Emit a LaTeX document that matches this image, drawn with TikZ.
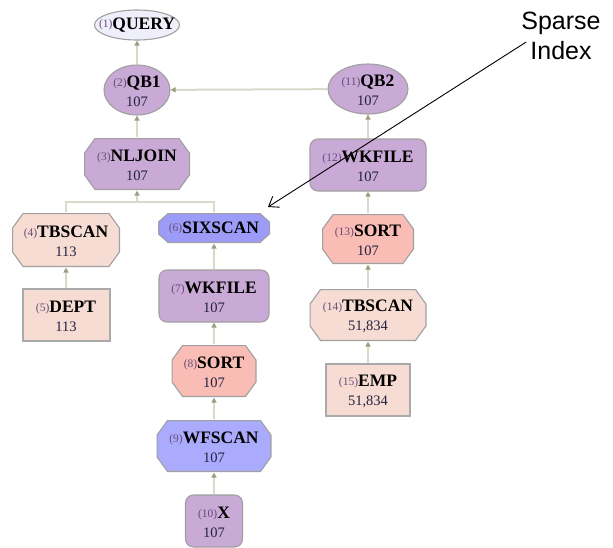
\documentclass[tikz,border=0pt]{standalone}
\usepackage{fontspec}
\setmainfont{Liberation Serif}
\newfontfamily\calloutfont{Liberation Sans}
\usetikzlibrary{
	arrows.meta,
	positioning,
	shapes.geometric
}
\definecolor{opviolet}{HTML}{C9A9D5}
\definecolor{oppeach}{HTML}{F6DCD2}
\definecolor{opsalmon}{HTML}{F9BDB5}
\definecolor{opblue}{HTML}{9C9CF8}
\definecolor{oplightblue}{HTML}{ABABFE}
\definecolor{opwhite}{HTML}{EFEFFC}
\definecolor{opborder}{HTML}{A0A0A0}
\definecolor{flowline}{HTML}{D9D9C9}
\definecolor{flowtip}{HTML}{9C9C80}
\definecolor{oplabel}{HTML}{6A4A78}
\definecolor{oprows}{HTML}{222240}
\newcommand{\opname}[2]{\raisebox{1.5pt}{\fontsize{11.5}{12}\selectfont\color{oplabel}(#1)}\textbf{#2}}
\newcommand{\opnode}[3]{\rule{0pt}{15pt}\opname{#1}{#2}\\[1pt]{\fontsize{14.5}{14.5}\selectfont\color{oprows}#3}}
% octagon outline inside the node box, #1 = chamfer along x, #2 = along y
\newcommand{\octpath}[2]{%
	([shift={(#1,-.55pt)}]path picture bounding box.north west)
	-- ([shift={(-#1,-.55pt)}]path picture bounding box.north east)
	-- ([shift={(-.55pt,-#2)}]path picture bounding box.north east)
	-- ([shift={(-.55pt,#2)}]path picture bounding box.south east)
	-- ([shift={(-#1,.55pt)}]path picture bounding box.south east)
	-- ([shift={(#1,.55pt)}]path picture bounding box.south west)
	-- ([shift={(.55pt,#2)}]path picture bounding box.south west)
	-- ([shift={(.55pt,-#2)}]path picture bounding box.north west)
	-- cycle}
\tikzset{
	node distance=75pt,
	op/.style={
		draw=opborder, line width=1.1pt, align=center, inner sep=0pt,
		font=\fontsize{17.5}{18}\selectfont, minimum height=52pt
	},
	qblock/.style={op, ellipse, fill=opviolet, inner xsep=-6pt, minimum height=50pt},
	octagon/.style n args={3}{
		op, draw=none,
		path picture={\path [draw=opborder, fill=#1, line width=1.1pt] \octpath{#2}{#3};}
	},
	workfile/.style={op, rounded corners=8pt, fill=opviolet},
	basetable/.style={op, fill=oppeach, line width=2pt, draw=opborder!90},
	flow/.style={
		draw=flowline, line width=2pt,
		-{Triangle[length=5pt,width=5pt,color=flowtip]}
	},
	bus/.style={draw=flowline, line width=2pt},
	callout/.style={draw=black, line width=0.9pt, -{Straight Barb[length=9pt,width=13pt]}}
}
\begin{document}
\begin{tikzpicture}[x=1pt,y=-1pt]
	\useasboundingbox (0,0) rectangle (613,547);
	\path
		node [qblock,fill=opwhite,minimum width=85pt,minimum height=30pt,inner xsep=-13pt] (query) at (137,25) {\opname{1}{QUERY}}
		node [qblock,minimum width=66pt,below of=query,node distance=65pt] (qb1) {\opnode{2}{QB1}{107}}
		node [octagon={opviolet}{11pt}{15pt},minimum width=106pt,below of=qb1,node distance=74pt] (nljoin) {\opnode{3}{NLJOIN}{107}}
		coordinate [below of=nljoin,node distance=38pt] (split)

		node [octagon={oppeach}{11pt}{15pt},minimum width=108pt,minimum height=54pt] (tbscan4) at (66,240) {\opnode{4}{TBSCAN}{113}}
		node [basetable,minimum width=87pt,below of=tbscan4] (dept) {\opnode{5}{DEPT}{113}}

		node [octagon={opblue}{10pt}{9pt},minimum width=112pt,minimum height=30pt] (sixscan) at (214,228) {\opname{6}{SIXSCAN}}
		node [workfile,minimum width=110pt,below of=sixscan,node distance=68pt] (wkfile7) {\opnode{7}{WKFILE}{107}}
		node [octagon={opsalmon}{11pt}{15pt},minimum width=85pt,below of=wkfile7] (sort8) {\opnode{8}{SORT}{107}}
		node [octagon={oplightblue}{11pt}{15pt},minimum width=115pt,below of=sort8] (wfscan9) {\opnode{9}{WFSCAN}{107}}
		node [workfile,minimum width=57pt,below of=wfscan9] (x10) {\opnode{10}{X}{107}}

		node [qblock,minimum width=80pt] (qb2) at (368,89) {\opnode{11}{QB2}{107}}
		node [workfile,minimum width=116pt,below of=qb2,node distance=76pt] (wkfile12) {\opnode{12}{WKFILE}{107}}
		node [octagon={opsalmon}{11pt}{15pt},minimum width=92pt,minimum height=50pt,below of=wkfile12,node distance=74pt] (sort13) {\opnode{13}{SORT}{107}}
		node [octagon={oppeach}{11pt}{15pt},minimum width=117pt,below of=sort13,node distance=76pt] (tbscan14) {\opnode{14}{TBSCAN}{51,834}}
		node [basetable,minimum width=84pt,below of=tbscan14] (emp15) {\opnode{15}{EMP}{51,834}}

		node [font=\calloutfont\fontsize{25}{30}\selectfont,align=center,inner sep=0pt] (sparse) at (561,36) {Sparse\\Index}
		coordinate (sparsetip) at (268,207);

	% plan flow, child to parent
	\draw [bus] (tbscan4) |- (split);
	\draw [bus] (sixscan) |- (split);
	\path
		(qb1)      edge [flow] (query)
		(qb2)      edge [flow] (qb1)
		(split)    edge [flow] (nljoin)
		(nljoin)   edge [flow] (qb1)
		(dept)     edge [flow] (tbscan4)
		(wkfile7)  edge [flow] (sixscan)
		(sort8)    edge [flow] (wkfile7)
		(wfscan9)  edge [flow] (sort8)
		(x10)      edge [flow] (wfscan9)
		(wkfile12) edge [flow] (qb2)
		(sort13)   edge [flow] (wkfile12)
		(tbscan14) edge [flow] (sort13)
		(emp15)    edge [flow] (tbscan14);

	\draw [callout] ([shift={(5pt,-6pt)}]sparse.west) -- (sparsetip);
\end{tikzpicture}
\end{document}
